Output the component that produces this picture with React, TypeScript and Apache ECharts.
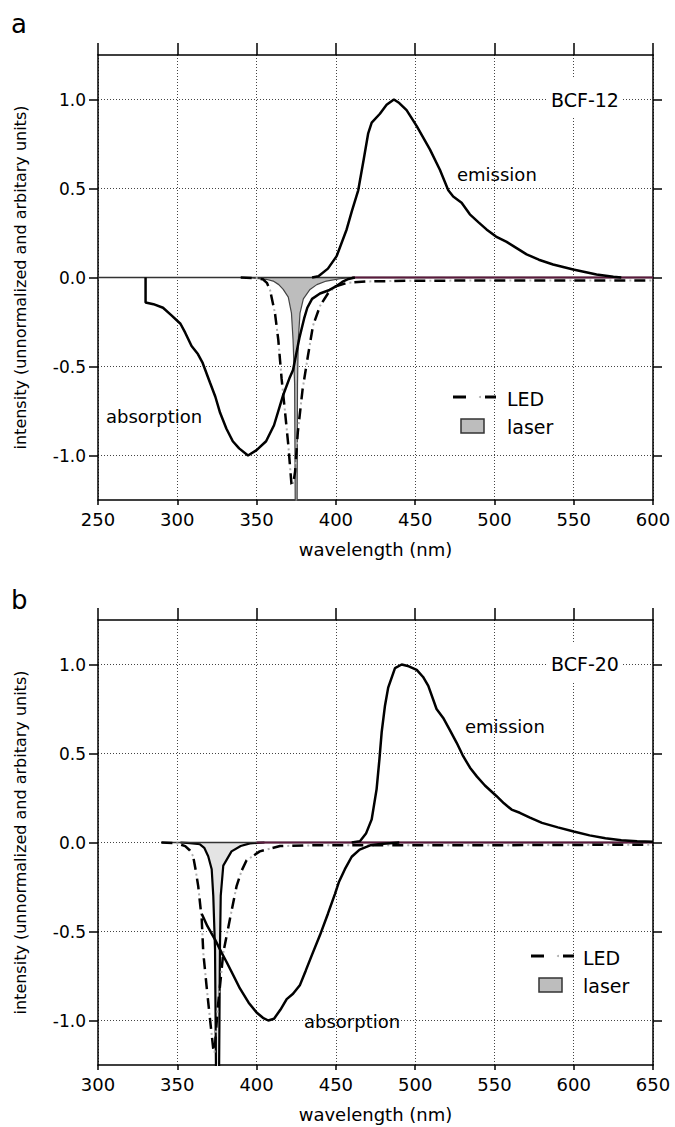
import React, { useEffect, useRef } from "react";
import * as echarts from "echarts";

// ---------- Data: panel a (BCF-12) ----------
const emission12: [number, number][] = [
  [385, 0], [389, 0.007], [395, 0.05], [400.5, 0.12], [406.8, 0.27], [410, 0.37], [414.1, 0.49],
  [417.5, 0.66], [420.4, 0.81], [422.6, 0.87], [427.8, 0.92], [432, 0.97], [436.6, 1.0], [440, 0.98],
  [444.6, 0.94], [451, 0.85], [459.3, 0.72], [465.6, 0.605], [470.9, 0.49], [474, 0.455],
  [479.3, 0.42], [484.5, 0.355], [490, 0.31], [495, 0.27], [501, 0.23], [507.7, 0.2], [514, 0.165],
  [520.3, 0.13], [528, 0.1], [537, 0.073], [549.7, 0.045], [564.4, 0.017], [575, 0.004], [580, 0],
];
const absorption12: [number, number][] = [
  [280, 0], [280, -0.14], [285, -0.15], [291, -0.17], [296, -0.21], [302, -0.26], [305, -0.31],
  [309, -0.385], [313, -0.43], [316, -0.48], [320.6, -0.59], [324, -0.67], [327, -0.76], [331, -0.85],
  [335, -0.92], [339, -0.96], [344.6, -1.0], [350, -0.97], [356, -0.92], [361, -0.83], [366.8, -0.66],
  [371, -0.56], [373, -0.52], [377, -0.34], [380, -0.23], [382, -0.17], [385, -0.12], [390, -0.09],
  [396, -0.07], [400, -0.05], [404, -0.025], [408, -0.008], [412, 0],
];
const led12: [number, number][] = [
  [340, 0], [350, -0.004], [354, -0.01], [356.5, -0.03], [358.5, -0.07], [361.6, -0.2], [363.7, -0.35],
  [365.8, -0.57], [368, -0.76], [370, -0.94], [372, -1.16], [373, -1.17], [374.3, -1.09], [376, -0.87],
  [379, -0.63], [382.4, -0.44], [385.6, -0.27], [390, -0.16], [395, -0.09], [400, -0.05], [407, -0.03],
  [420, -0.022], [450, -0.018], [500, -0.017], [550, -0.017], [600, -0.017],
];
const laser12: [number, number][] = [
  [345, 0], [350, -0.005], [356, -0.01], [360.5, -0.02], [364, -0.04], [366.8, -0.067], [370, -0.11],
  [372, -0.2], [373, -0.35], [374, -0.6], [374.5, -1.5], [375.5, -1.5], [375.8, -0.6], [376.3, -0.35],
  [377.4, -0.2], [379.5, -0.12], [383.7, -0.067], [388, -0.04], [394, -0.02], [402.6, -0.007], [410, 0],
];
const zero12: [number, number][] = [[250, 0], [600, 0]];
const maroon12: [number, number][] = [[410, 0], [600, 0]];

// ---------- Data: panel b (BCF-20) ----------
const emission20: [number, number][] = [
  [460, 0], [465.2, 0.007], [469, 0.05], [472.6, 0.13], [475.7, 0.3], [477.5, 0.47], [478.9, 0.62],
  [481, 0.77], [483, 0.87], [487.3, 0.98], [491.5, 1.0], [496, 0.99], [501, 0.97], [505, 0.93],
  [508.3, 0.88], [513.5, 0.75], [517.7, 0.7], [522, 0.63], [526.2, 0.56], [530, 0.49], [534.6, 0.42],
  [539, 0.37], [544, 0.32], [551.4, 0.26], [556, 0.22], [560.8, 0.185], [566, 0.167], [572.4, 0.14],
  [580, 0.11], [590, 0.085], [600, 0.062], [610, 0.04], [620, 0.024], [630, 0.013], [640, 0.007], [650, 0.004],
];
const absorption20: [number, number][] = [
  [365.4, -0.4], [369, -0.47], [373.8, -0.545], [378, -0.62], [381, -0.67], [385, -0.74], [389.5, -0.82],
  [395, -0.9], [400, -0.955], [404, -0.985], [407.4, -1.0], [411, -0.99], [415, -0.94], [419, -0.88],
  [423, -0.85], [427.4, -0.8], [431, -0.72], [435, -0.63], [440, -0.52], [445, -0.4], [449.4, -0.29],
  [452, -0.22], [455.7, -0.15], [460, -0.08], [465, -0.04], [472, -0.015], [478, -0.008], [490, 0],
];
const led20: [number, number][] = [
  [340, 0], [350, -0.005], [355, -0.02], [358, -0.045], [360, -0.077], [361.5, -0.15], [363.2, -0.245],
  [365.4, -0.43], [366.4, -0.62], [368.5, -0.81], [370.6, -0.99], [372.7, -1.16], [373.5, -1.18],
  [374.5, -1.05], [375.5, -0.93], [377, -0.8], [379, -0.62], [383.2, -0.43], [387.4, -0.245],
  [390.5, -0.16], [393.7, -0.1], [402, -0.05], [414.8, -0.02], [440, -0.015], [500, -0.015],
  [560, -0.015], [650, -0.012],
];
const laser20: [number, number][] = [
  [352, 0], [358, -0.003], [364.3, -0.01], [367, -0.03], [369.5, -0.077], [371.7, -0.15], [372.7, -0.3],
  [373.8, -0.6], [374.6, -1.5], [376.2, -1.5], [376.9, -0.6], [377.4, -0.3], [379, -0.13], [384.2, -0.05],
  [390, -0.02], [395.8, -0.005], [405, 0],
];
const zero20: [number, number][] = [[340, 0], [650, 0]];
const maroon20: [number, number][] = [[400, 0], [650, 0]];

const yTicks = [-1, -0.5, 0, 0.5, 1];
const xRangeA = [250, 600];
const xRangeB = [300, 650];

const FONT = '"DejaVu Sans", "Noto Sans", sans-serif';

function panelAxes(gi: number, range: number[]) {
  const axisLine = { show: true, onZero: false, lineStyle: { color: "#000", width: 1.5 } };
  const xBottom = {
    gridIndex: gi, type: "value", min: range[0], max: range[1], interval: 50, position: "bottom",
    name: "wavelength (nm)", nameLocation: "middle", nameGap: 40,
    nameTextStyle: { fontSize: 18, color: "#000", fontFamily: FONT },
    axisLine, axisTick: { length: 5, lineStyle: { color: "#000", width: 1.5 } },
    axisLabel: { fontSize: 18, color: "#000", margin: 10, fontFamily: FONT },
    splitLine: { show: true, lineStyle: { color: "#444", type: [1, 2], width: 1 } },
  };
  const xTop = {
    gridIndex: gi, type: "value", min: range[0], max: range[1], interval: 50, position: "top",
    axisLine, axisTick: { length: 12, lineStyle: { color: "#000", width: 1.5 } },
    axisLabel: { show: false }, splitLine: { show: false },
  };
  const yLeft = {
    gridIndex: gi, type: "value", min: -1.25, max: 1.25, position: "left",
    name: "intensity (unnormalized and arbitary units)", nameLocation: "middle", nameGap: 70,
    nameTextStyle: { fontSize: 16, color: "#000", fontFamily: FONT },
    axisLine,
    axisTick: { show: true, customValues: yTicks, length: 9, lineStyle: { color: "#000", width: 1.5 } },
    axisLabel: {
      customValues: yTicks, fontSize: 17, color: "#000", margin: 12, fontFamily: FONT,
      formatter: (v: number) => v.toFixed(1),
    },
    splitLine: { show: true, lineStyle: { color: "#444", type: [1, 2], width: 1 } },
  };
  const yRight = {
    gridIndex: gi, type: "value", min: -1.25, max: 1.25, position: "right",
    axisLine,
    axisTick: { show: true, customValues: yTicks, length: 9, lineStyle: { color: "#000", width: 1.5 } },
    axisLabel: { show: false }, splitLine: { show: false },
  };
  return { x: [xBottom, xTop], y: [yLeft, yRight] };
}

function panelSeries(
  gi: number, laser: [number, number][], laserFill: string, laserLine: string, laserWidth: number,
  zero: [number, number][], maroon: [number, number][], led: [number, number][],
  absorption: [number, number][], emission: [number, number][]
) {
  const base = { type: "line", xAxisIndex: gi * 2, yAxisIndex: gi * 2, showSymbol: false, symbol: "none", silent: true, animation: false };
  return [
    { ...base, name: "laser", data: laser, lineStyle: { color: laserLine, width: laserWidth }, areaStyle: { color: laserFill, opacity: 1 } },
    { ...base, name: "zero", data: zero, lineStyle: { color: "#333", width: 1.5 } },
    { ...base, name: "baseline", data: maroon, lineStyle: { color: "#5a1a3c", width: 2 } },
    { ...base, name: "LED dots", data: led, lineStyle: { color: "#b0b0b0", width: 2, type: [2, 18], dashOffset: 5 } },
    { ...base, name: "LED", data: led, lineStyle: { color: "#000", width: 2.5, type: [11, 9] } },
    { ...base, name: "absorption", data: absorption, lineStyle: { color: "#000", width: 2.5 } },
    { ...base, name: "emission", data: emission, lineStyle: { color: "#000", width: 2.5 } },
  ];
}

function txt(x: number, y: number, text: string, fontSize: number, align = "left") {
  return {
    type: "text", x, y, silent: true, z: 100,
    style: {
      text, fontSize, fontFamily: FONT, fill: "#000",
      align, verticalAlign: "middle", textAlign: align, textVerticalAlign: "middle",
    },
  };
}

function whiteBox(x: number, y: number, w: number, h: number) {
  return { type: "rect", silent: true, z: 99, shape: { x, y, width: w, height: h }, style: { fill: "#fff" } };
}

function legend(x0: number, y0: number, yRect: number, yLaser: number, textX: number) {
  return [
    { type: "line", silent: true, z: 100, shape: { x1: x0, y1: y0, x2: x0 + 13, y2: y0 }, style: { stroke: "#000", lineWidth: 3 } },
    { type: "circle", silent: true, z: 100, shape: { cx: x0 + 27, cy: y0, r: 1 }, style: { fill: "#aaa" } },
    { type: "line", silent: true, z: 100, shape: { x1: x0 + 32, y1: y0, x2: x0 + 43, y2: y0 }, style: { stroke: "#000", lineWidth: 3 } },
    { type: "rect", silent: true, z: 100, shape: { x: x0 + 8, y: yRect, width: 23, height: 14 }, style: { fill: "#bdbdbd", stroke: "#333", lineWidth: 1.5 } },
    txt(textX, y0 + 2, "LED", 19),
    txt(textX, yLaser, "laser", 19),
  ];
}

export default function App() {
  const ref = useRef<HTMLDivElement>(null);
  useEffect(() => {
    document.body.style.margin = "0";
    if (!ref.current) return;
    const chart = echarts.init(ref.current, null, { renderer: "svg" });
    const a = panelAxes(0, xRangeA);
    const b = panelAxes(1, xRangeB);
    chart.setOption({
      animation: false,
      backgroundColor: "#fff",
      textStyle: { fontFamily: FONT },
      grid: [
        { left: 98, top: 55, width: 555, height: 445 },
        { left: 98, top: 620, width: 555, height: 445 },
      ],
      xAxis: [...a.x, ...b.x],
      yAxis: [...a.y, ...b.y],
      series: [
        ...panelSeries(0, laser12, "#bdbdbd", "#444", 1.2, zero12, maroon12, led12, absorption12, emission12),
        ...panelSeries(1, laser20, "#e4e4e4", "#000", 2.2, zero20, maroon20, led20, absorption20, emission20),
      ],
      graphic: [
        txt(11, 24, "a", 26),
        txt(11, 600, "b", 26),
        whiteBox(547, 79, 75, 38),
        whiteBox(547, 644, 75, 38),
        txt(585, 100, "BCF-12", 19, "center"),
        txt(585, 664, "BCF-20", 19, "center"),
        txt(457, 174, "emission", 18),
        txt(465, 726, "emission", 18),
        txt(106, 416, "absorption", 18),
        txt(304, 1021, "absorption", 18),
        ...legend(453, 397, 419, 427, 507),
        ...legend(531, 956, 978, 986, 583),
      ],
    });
    return () => chart.dispose();
  }, []);
  return <div ref={ref} style={{ width: 675, height: 1127 }} />;
}
